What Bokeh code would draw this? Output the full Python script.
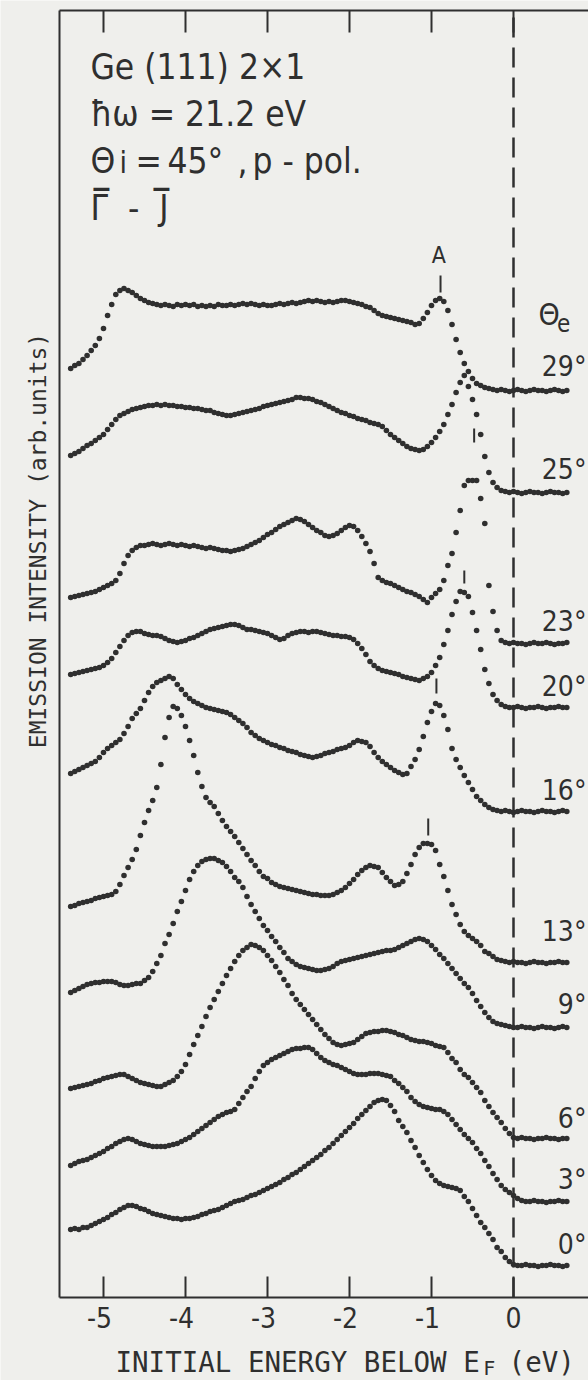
import numpy as np
from bokeh.plotting import figure
from bokeh.models import Range1d, Label, LinearAxis, FixedTicker, ColumnDataSource
from bokeh.embed import file_html
from bokeh.resources import INLINE

# ---------------- data ----------------
# sampling grid (initial energy below E_F, eV), step 0.05 eV
energy = [round(-5.40 + 0.05 * i, 2) for i in range(122)]

angles = ["29°", "25°", "23°", "20°", "16°", "13°", "9°", "6°", "3°", "0°"]
# vertical offset (arb. units) of each spectrum in the stack
offsets = [907, 805, 654, 590, 486, 335, 270, 159, 96, 32]

# intensities above each spectrum's own baseline (arb. units)
curve_29 = [22,25,27,31,35,40,45,52,62,75,
            86,96,100,102,100,98,95,92,90,88,
            87,86,85,86,85,84,86,85,86,85,
            86,84,85,84,85,84,86,85,85,86,
            85,86,87,86,87,86,85,86,85,85,
            86,87,86,87,88,87,88,89,90,89,
            90,89,88,89,88,89,90,90,89,88,
            87,86,84,83,80,77,75,74,73,72,
            71,70,69,68,66,67,72,78,85,90,
            92,89,80,66,51,38,27,19,12,7,
            5,3,2,1,0,1,0,-1,0,1,
            0,-1,0,1,0,0,-1,0,1,0,-1,0]
curve_25 = [37,39,41,44,47,49,52,55,58,63,
            68,73,77,79,81,83,84,85,86,87,
            87,88,87,88,87,87,86,86,85,85,
            84,84,83,82,82,80,79,78,77,77,
            78,79,80,81,82,83,84,86,87,88,
            89,90,91,92,93,95,95,94,94,93,
            91,90,88,86,84,82,80,79,77,76,
            74,73,72,70,69,68,66,62,58,55,
            52,49,46,44,43,42,43,46,50,55,
            61,68,78,88,100,110,117,106,93,78,
            58,36,20,10,5,2,1,0,1,0,
            -1,0,1,0,0,-1,0,1,0,0,-1,0]
curve_23 = [46,47,48,49,50,51,52,54,56,58,
            60,63,70,80,88,93,96,98,98,99,
            100,99,98,99,100,99,98,99,98,97,
            98,97,96,95,96,95,94,93,93,92,
            93,94,95,97,99,101,103,106,109,111,
            114,117,119,121,123,125,124,122,119,116,
            113,111,108,107,108,110,113,116,118,117,
            113,107,100,92,80,66,63,61,60,58,
            56,54,52,51,49,47,44,41,46,50,
            54,63,78,90,111,133,158,163,163,163,
            145,120,58,32,13,3,1,0,1,0,
            0,-1,0,1,0,0,1,0,-1,0,0,1]
curve_20 = [33,34,35,36,37,38,39,40,42,45,
            49,55,61,67,72,75,76,76,74,73,
            72,72,71,69,67,66,65,66,67,69,
            70,72,74,76,78,79,80,81,82,83,
            83,82,80,78,78,77,76,75,74,72,
            70,68,69,72,74,75,76,76,75,76,
            76,75,74,73,72,72,71,71,70,68,
            64,59,53,46,42,39,37,36,35,34,
            33,31,30,29,28,27,29,31,35,42,
            50,63,77,93,106,116,115,111,95,77,
            58,38,24,13,7,3,1,0,0,1,
            0,-1,0,0,1,0,-1,0,0,1,0,0]
curve_16 = [38,40,42,44,46,48,50,54,59,63,
            66,69,72,78,85,93,98,103,111,119,
            125,129,131,133,135,133,127,122,117,113,
            110,108,106,104,103,102,101,100,99,97,
            94,91,88,84,79,76,73,71,69,67,
            66,64,63,61,60,59,57,56,55,54,
            55,56,58,59,60,62,63,64,66,69,
            71,70,69,65,59,54,50,47,44,41,
            39,37,38,45,52,62,75,89,100,108,
            106,96,82,63,52,44,36,29,22,15,
            11,7,4,2,1,0,1,0,-1,0,
            1,0,0,-1,0,1,0,0,-1,0,1,0]
curve_13 = [56,57,59,60,61,62,64,65,66,67,
            68,71,78,87,95,103,113,127,140,152,
            162,175,198,225,245,256,254,247,236,222,
            207,190,176,165,160,156,149,142,136,131,
            126,120,114,108,102,97,91,86,84,80,
            78,76,75,74,73,72,71,70,69,68,
            68,67,67,67,68,70,72,75,79,83,
            88,92,95,97,96,95,90,85,81,77,
            78,81,89,98,108,115,119,119,118,112,
            98,86,72,58,48,38,31,27,24,21,
            17,11,9,6,3,2,1,0,1,0,
            0,-1,0,1,0,0,-1,0,0,1,0,0]
curve_9 = [35,37,39,41,43,44,45,45,46,46,
           46,45,43,42,42,43,44,44,47,50,
           56,64,72,84,93,104,116,126,137,148,
           156,162,166,168,169,169,167,165,161,156,
           150,146,140,131,123,116,109,102,97,91,
           86,80,75,69,66,63,61,60,59,58,
           57,57,58,59,61,64,66,67,68,69,
           70,71,72,73,74,75,76,77,77,78,
           80,82,84,86,88,89,88,86,82,78,
           73,69,64,59,54,49,44,40,34,27,
           21,15,10,6,4,3,2,1,0,0,
           1,0,0,-1,0,1,0,0,-1,0,1,0]
curve_6 = [50,51,52,53,54,55,57,58,60,61,
           62,63,64,64,62,60,58,56,55,54,
           53,52,52,54,56,58,62,67,74,84,
           94,103,112,122,131,139,147,155,163,170,
           177,183,188,191,194,193,191,188,183,178,
           172,166,159,153,145,139,134,129,124,119,
           114,109,104,100,96,94,93,94,95,96,
           99,102,105,106,107,107,108,108,107,106,
           104,103,101,99,98,97,97,96,95,93,
           92,91,86,80,76,69,64,61,56,51,
           46,38,32,26,21,16,10,5,1,0,
           1,0,0,-1,0,0,1,0,0,-1,0,0]
curve_3 = [36,38,40,41,42,44,46,48,50,53,
           55,58,60,62,63,62,60,58,57,56,
           55,55,55,55,56,57,58,60,62,64,
           67,70,73,76,79,82,85,87,89,90,
           92,98,104,110,115,123,130,136,139,142,
           144,146,148,150,152,153,153,154,154,152,
           148,144,141,139,137,136,134,132,130,128,
           127,127,127,128,128,128,127,126,125,121,
           118,114,110,104,100,97,95,94,93,92,
           92,90,87,82,77,72,67,63,59,53,
           48,41,35,28,22,16,12,9,6,3,
           1,0,0,1,0,0,-1,0,0,1,0,0]
curve_0 = [36,37,36,38,38,40,42,44,46,48,
           51,53,56,58,60,60,59,57,56,54,
           52,51,50,49,48,47,47,46,47,47,
           48,49,51,52,54,55,56,58,60,62,
           64,65,66,68,70,71,73,75,77,79,
           81,83,86,88,91,93,96,99,102,105,
           108,111,115,118,122,126,130,134,138,142,
           147,151,155,159,163,165,166,165,160,154,
           145,139,133,125,118,110,103,96,90,85,
           82,80,79,78,77,75,69,64,57,50,
           43,38,32,26,18,14,8,4,1,0,
           0,1,0,0,-1,0,0,1,0,0,-1,0]

curves = [curve_29, curve_25, curve_23, curve_20, curve_16,
          curve_13, curve_9, curve_6, curve_3, curve_0]

# peak markers: (spectrum index, energy, low, high) heights above baseline
peak_marks = [(0, -0.89, 98, 115), (2, -0.48, 201, 215), (3, -0.60, 124, 137),
              (4, -0.94, 118, 133), (5, -1.04, 127, 144)]
label_lift = [13, 12, 11, 10, 10, 20, 12, 9, 11, 10]

x_ticks = [-5, -4, -3, -2, -1, 0]

# ---------------- figure ----------------
INK = "#2f2f2f"
BG = "#efefec"
COND = "DejaVu Sans Condensed"
MONO = "DejaVu Sans Mono"
FIX = 11   # baseline correction of the svg text placement (px)

X_LEFT, X_RIGHT = -5.537, 0.9146     # plot box in data units
Y_BOTTOM, Y_TOP = 0, 1287

p = figure(width=588, height=1380, x_range=Range1d(-6.2561, X_RIGHT), y_range=Range1d(-83, 1297),
           output_backend="svg", toolbar_location=None,
           min_border_left=0, min_border_right=0, min_border_top=0, min_border_bottom=0,
           background_fill_color=BG, border_fill_color=BG, outline_line_color=None)
p.grid.visible = False

xa = p.xaxis[0]
xa.fixed_location = Y_BOTTOM
xa.bounds = (X_LEFT, X_RIGHT)
xa.ticker = FixedTicker(ticks=x_ticks)
xa.major_label_overrides = {t: (f"{t}\u00a0" if t < 0 else f"{t}") for t in x_ticks}
xa.major_tick_in = 21
xa.major_tick_out = 0
xa.minor_tick_in = 0
xa.minor_tick_out = 0
xa.major_tick_line_width = 2
xa.major_tick_line_color = INK
xa.axis_line_width = 2
xa.axis_line_color = INK
xa.major_label_text_font = COND
xa.major_label_text_font_size = "28px"
xa.major_label_text_color = INK
xa.major_label_standoff = 4

ya = p.yaxis[0]
ya.fixed_location = X_LEFT
ya.bounds = (Y_BOTTOM, Y_TOP)
ya.ticker = FixedTicker(ticks=[])
ya.major_tick_in = 0
ya.major_tick_out = 0
ya.minor_tick_in = 0
ya.minor_tick_out = 0
ya.major_label_text_color = None
ya.axis_line_width = 2
ya.axis_line_color = INK

top = LinearAxis(ticker=FixedTicker(ticks=x_ticks), fixed_location=Y_TOP, bounds=(X_LEFT, X_RIGHT),
                 major_tick_in=22, major_tick_out=0, minor_tick_in=0, minor_tick_out=0,
                 major_label_text_color=None, axis_line_width=2, axis_line_color=INK,
                 major_tick_line_width=2, major_tick_line_color=INK)
p.add_layout(top, "above")

# Fermi level
p.segment(x0=[0], y0=[Y_BOTTOM], x1=[0], y1=[Y_TOP], line_color=INK, line_width=2.5,
          line_dash="20 10")

for vals, off in zip(curves, offsets):
    src = ColumnDataSource(dict(x=energy, y=[v + off for v in vals]))
    p.scatter("x", "y", source=src, size=5.6, color=INK, line_color=None)

for idx, e, lo, hi in peak_marks:
    p.segment(x0=[e], y0=[offsets[idx] + lo], x1=[e], y1=[offsets[idx] + hi],
              line_color=INK, line_width=2)


def text(x, y, s, size, font=COND, align="left", dx=0, dy=0):
    p.add_layout(Label(x=x, y=y + FIX, x_offset=dx, y_offset=dy, text=s, text_align=align,
                       text_baseline="alphabetic", text_font=font,
                       text_font_size=size, text_color=INK))


# curve labels
for name, off, lift in zip(angles, offsets, label_lift):
    text(0.89, off + lift, name, "28px", align="right")

text(-0.91, offsets[0] + 125, "A", "23px", align="center")
text(0.305, 972, "Θ", "30px")
text(0.53, 964, "e", "24px")

# header block
hx = -5.159
text(hx, 1220, "Ge (111) 2×1", "35px")
text(hx, 1173, "ħω = 21.2 eV", "35px")
text(hx, 1126, "Θ", "35px")
text(hx, 1124, "i", "30px", dx=29)
text(hx, 1126, "=", "35px", dx=45)
text(hx, 1126, "45°", "35px", dx=77)
text(hx, 1126, ",", "35px", dx=147)
text(hx, 1126, "p\u00a0-\u00a0pol.", "35px", dx=162)
text(hx, 1079, "Γ\u00a0\u00a0-\u00a0\u00a0J", "35px")
text(hx, 1079, "\u2013", "44px", dx=1, dy=21)
text(hx, 1079, "\u2013", "44px", dx=61, dy=21)

# axis titles
text(-4.854, -75, "INITIAL ENERGY BELOW E", "27.5px", font=MONO)
text(-0.37, -81, "F", "20px", font=MONO)
text(-0.06, -75, "(eV)", "27.5px", font=MONO)
p.add_layout(Label(x=-5.799, y=757, text="EMISSION INTENSITY (arb.units)", angle=np.pi / 2,
                   text_align="center", text_baseline="middle", text_font=MONO,
                   text_font_size="23px", text_color=INK))

open("out.html", "w").write(file_html(p, INLINE))
